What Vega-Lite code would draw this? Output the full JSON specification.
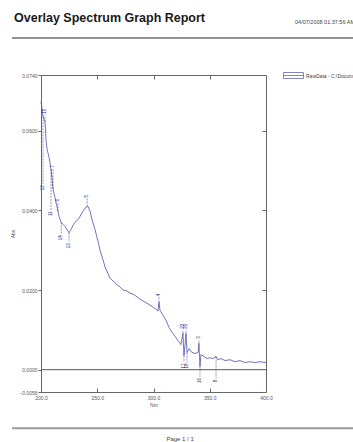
{
  "$schema": "https://vega.github.io/schema/vega-lite/v6.json",
  "autosize": {"type": "none"},
  "width": 225,
  "height": 317,
  "padding": {"left": 41, "top": 75, "right": 87, "bottom": 50},
  "background": "white",
  "config": {
    "view": {"stroke": "#666666", "strokeWidth": 1},
    "font": "Liberation Sans Narrow, Liberation Sans, Arial",
    "axis": {"grid": false, "domain": false, "labelColor": "#555555", "tickColor": "#666666", "titleColor": "#555555", "labelFontSize": 5, "titleFontSize": 5, "titleFontWeight": "normal"}
  },
  "resolve": {"axis": {"x": "independent", "y": "independent"}},
  "datasets": {
    "blank": [{}],
    "spectrum": [
      {"nm": 200.0, "abs": 0.0674, "series": "RawData - C:\\Documents and Settings\\User\\Spectrum.csv"},
      {"nm": 200.9, "abs": 0.0656, "series": "RawData - C:\\Documents and Settings\\User\\Spectrum.csv"},
      {"nm": 201.8, "abs": 0.0636, "series": "RawData - C:\\Documents and Settings\\User\\Spectrum.csv"},
      {"nm": 203.6, "abs": 0.0623, "series": "RawData - C:\\Documents and Settings\\User\\Spectrum.csv"},
      {"nm": 204.4, "abs": 0.0580, "series": "RawData - C:\\Documents and Settings\\User\\Spectrum.csv"},
      {"nm": 205.3, "abs": 0.0555, "series": "RawData - C:\\Documents and Settings\\User\\Spectrum.csv"},
      {"nm": 207.1, "abs": 0.0534, "series": "RawData - C:\\Documents and Settings\\User\\Spectrum.csv"},
      {"nm": 208.9, "abs": 0.0504, "series": "RawData - C:\\Documents and Settings\\User\\Spectrum.csv"},
      {"nm": 209.8, "abs": 0.0479, "series": "RawData - C:\\Documents and Settings\\User\\Spectrum.csv"},
      {"nm": 210.7, "abs": 0.0453, "series": "RawData - C:\\Documents and Settings\\User\\Spectrum.csv"},
      {"nm": 212.4, "abs": 0.0433, "series": "RawData - C:\\Documents and Settings\\User\\Spectrum.csv"},
      {"nm": 213.3, "abs": 0.0420, "series": "RawData - C:\\Documents and Settings\\User\\Spectrum.csv"},
      {"nm": 215.1, "abs": 0.0398, "series": "RawData - C:\\Documents and Settings\\User\\Spectrum.csv"},
      {"nm": 216.0, "abs": 0.0385, "series": "RawData - C:\\Documents and Settings\\User\\Spectrum.csv"},
      {"nm": 217.8, "abs": 0.0370, "series": "RawData - C:\\Documents and Settings\\User\\Spectrum.csv"},
      {"nm": 219.6, "abs": 0.0365, "series": "RawData - C:\\Documents and Settings\\User\\Spectrum.csv"},
      {"nm": 221.3, "abs": 0.0360, "series": "RawData - C:\\Documents and Settings\\User\\Spectrum.csv"},
      {"nm": 223.1, "abs": 0.0352, "series": "RawData - C:\\Documents and Settings\\User\\Spectrum.csv"},
      {"nm": 224.9, "abs": 0.0344, "series": "RawData - C:\\Documents and Settings\\User\\Spectrum.csv"},
      {"nm": 226.7, "abs": 0.0352, "series": "RawData - C:\\Documents and Settings\\User\\Spectrum.csv"},
      {"nm": 228.4, "abs": 0.0362, "series": "RawData - C:\\Documents and Settings\\User\\Spectrum.csv"},
      {"nm": 230.2, "abs": 0.0370, "series": "RawData - C:\\Documents and Settings\\User\\Spectrum.csv"},
      {"nm": 232.9, "abs": 0.0377, "series": "RawData - C:\\Documents and Settings\\User\\Spectrum.csv"},
      {"nm": 234.7, "abs": 0.0385, "series": "RawData - C:\\Documents and Settings\\User\\Spectrum.csv"},
      {"nm": 237.3, "abs": 0.0398, "series": "RawData - C:\\Documents and Settings\\User\\Spectrum.csv"},
      {"nm": 240.0, "abs": 0.0408, "series": "RawData - C:\\Documents and Settings\\User\\Spectrum.csv"},
      {"nm": 241.8, "abs": 0.0410, "series": "RawData - C:\\Documents and Settings\\User\\Spectrum.csv"},
      {"nm": 243.6, "abs": 0.0398, "series": "RawData - C:\\Documents and Settings\\User\\Spectrum.csv"},
      {"nm": 245.3, "abs": 0.0377, "series": "RawData - C:\\Documents and Settings\\User\\Spectrum.csv"},
      {"nm": 248.0, "abs": 0.0352, "series": "RawData - C:\\Documents and Settings\\User\\Spectrum.csv"},
      {"nm": 250.7, "abs": 0.0322, "series": "RawData - C:\\Documents and Settings\\User\\Spectrum.csv"},
      {"nm": 252.4, "abs": 0.0301, "series": "RawData - C:\\Documents and Settings\\User\\Spectrum.csv"},
      {"nm": 255.1, "abs": 0.0276, "series": "RawData - C:\\Documents and Settings\\User\\Spectrum.csv"},
      {"nm": 256.9, "abs": 0.0258, "series": "RawData - C:\\Documents and Settings\\User\\Spectrum.csv"},
      {"nm": 259.6, "abs": 0.0241, "series": "RawData - C:\\Documents and Settings\\User\\Spectrum.csv"},
      {"nm": 261.3, "abs": 0.0230, "series": "RawData - C:\\Documents and Settings\\User\\Spectrum.csv"},
      {"nm": 264.0, "abs": 0.0223, "series": "RawData - C:\\Documents and Settings\\User\\Spectrum.csv"},
      {"nm": 267.6, "abs": 0.0213, "series": "RawData - C:\\Documents and Settings\\User\\Spectrum.csv"},
      {"nm": 270.2, "abs": 0.0208, "series": "RawData - C:\\Documents and Settings\\User\\Spectrum.csv"},
      {"nm": 272.9, "abs": 0.0200, "series": "RawData - C:\\Documents and Settings\\User\\Spectrum.csv"},
      {"nm": 276.4, "abs": 0.0198, "series": "RawData - C:\\Documents and Settings\\User\\Spectrum.csv"},
      {"nm": 279.1, "abs": 0.0192, "series": "RawData - C:\\Documents and Settings\\User\\Spectrum.csv"},
      {"nm": 281.8, "abs": 0.0190, "series": "RawData - C:\\Documents and Settings\\User\\Spectrum.csv"},
      {"nm": 284.4, "abs": 0.0185, "series": "RawData - C:\\Documents and Settings\\User\\Spectrum.csv"},
      {"nm": 288.0, "abs": 0.0177, "series": "RawData - C:\\Documents and Settings\\User\\Spectrum.csv"},
      {"nm": 292.4, "abs": 0.0170, "series": "RawData - C:\\Documents and Settings\\User\\Spectrum.csv"},
      {"nm": 296.9, "abs": 0.0162, "series": "RawData - C:\\Documents and Settings\\User\\Spectrum.csv"},
      {"nm": 299.6, "abs": 0.0157, "series": "RawData - C:\\Documents and Settings\\User\\Spectrum.csv"},
      {"nm": 302.2, "abs": 0.0152, "series": "RawData - C:\\Documents and Settings\\User\\Spectrum.csv"},
      {"nm": 304.0, "abs": 0.0147, "series": "RawData - C:\\Documents and Settings\\User\\Spectrum.csv"},
      {"nm": 304.9, "abs": 0.0170, "series": "RawData - C:\\Documents and Settings\\User\\Spectrum.csv"},
      {"nm": 305.8, "abs": 0.0149, "series": "RawData - C:\\Documents and Settings\\User\\Spectrum.csv"},
      {"nm": 308.4, "abs": 0.0137, "series": "RawData - C:\\Documents and Settings\\User\\Spectrum.csv"},
      {"nm": 311.1, "abs": 0.0124, "series": "RawData - C:\\Documents and Settings\\User\\Spectrum.csv"},
      {"nm": 313.8, "abs": 0.0106, "series": "RawData - C:\\Documents and Settings\\User\\Spectrum.csv"},
      {"nm": 316.4, "abs": 0.0094, "series": "RawData - C:\\Documents and Settings\\User\\Spectrum.csv"},
      {"nm": 319.1, "abs": 0.0084, "series": "RawData - C:\\Documents and Settings\\User\\Spectrum.csv"},
      {"nm": 321.8, "abs": 0.0073, "series": "RawData - C:\\Documents and Settings\\User\\Spectrum.csv"},
      {"nm": 324.4, "abs": 0.0063, "series": "RawData - C:\\Documents and Settings\\User\\Spectrum.csv"},
      {"nm": 326.2, "abs": 0.0091, "series": "RawData - C:\\Documents and Settings\\User\\Spectrum.csv"},
      {"nm": 327.1, "abs": 0.0035, "series": "RawData - C:\\Documents and Settings\\User\\Spectrum.csv"},
      {"nm": 328.0, "abs": 0.0061, "series": "RawData - C:\\Documents and Settings\\User\\Spectrum.csv"},
      {"nm": 328.9, "abs": 0.0091, "series": "RawData - C:\\Documents and Settings\\User\\Spectrum.csv"},
      {"nm": 329.8, "abs": 0.0043, "series": "RawData - C:\\Documents and Settings\\User\\Spectrum.csv"},
      {"nm": 331.6, "abs": 0.0053, "series": "RawData - C:\\Documents and Settings\\User\\Spectrum.csv"},
      {"nm": 334.2, "abs": 0.0043, "series": "RawData - C:\\Documents and Settings\\User\\Spectrum.csv"},
      {"nm": 336.9, "abs": 0.0041, "series": "RawData - C:\\Documents and Settings\\User\\Spectrum.csv"},
      {"nm": 339.6, "abs": 0.0043, "series": "RawData - C:\\Documents and Settings\\User\\Spectrum.csv"},
      {"nm": 340.4, "abs": 0.0066, "series": "RawData - C:\\Documents and Settings\\User\\Spectrum.csv"},
      {"nm": 341.3, "abs": 0.0008, "series": "RawData - C:\\Documents and Settings\\User\\Spectrum.csv"},
      {"nm": 342.2, "abs": 0.0038, "series": "RawData - C:\\Documents and Settings\\User\\Spectrum.csv"},
      {"nm": 344.9, "abs": 0.0033, "series": "RawData - C:\\Documents and Settings\\User\\Spectrum.csv"},
      {"nm": 347.6, "abs": 0.0028, "series": "RawData - C:\\Documents and Settings\\User\\Spectrum.csv"},
      {"nm": 350.2, "abs": 0.0030, "series": "RawData - C:\\Documents and Settings\\User\\Spectrum.csv"},
      {"nm": 352.9, "abs": 0.0028, "series": "RawData - C:\\Documents and Settings\\User\\Spectrum.csv"},
      {"nm": 355.6, "abs": 0.0033, "series": "RawData - C:\\Documents and Settings\\User\\Spectrum.csv"},
      {"nm": 357.3, "abs": 0.0025, "series": "RawData - C:\\Documents and Settings\\User\\Spectrum.csv"},
      {"nm": 360.0, "abs": 0.0028, "series": "RawData - C:\\Documents and Settings\\User\\Spectrum.csv"},
      {"nm": 363.6, "abs": 0.0023, "series": "RawData - C:\\Documents and Settings\\User\\Spectrum.csv"},
      {"nm": 368.0, "abs": 0.0025, "series": "RawData - C:\\Documents and Settings\\User\\Spectrum.csv"},
      {"nm": 372.4, "abs": 0.0020, "series": "RawData - C:\\Documents and Settings\\User\\Spectrum.csv"},
      {"nm": 376.9, "abs": 0.0023, "series": "RawData - C:\\Documents and Settings\\User\\Spectrum.csv"},
      {"nm": 381.3, "abs": 0.0018, "series": "RawData - C:\\Documents and Settings\\User\\Spectrum.csv"},
      {"nm": 385.8, "abs": 0.0020, "series": "RawData - C:\\Documents and Settings\\User\\Spectrum.csv"},
      {"nm": 390.2, "abs": 0.0018, "series": "RawData - C:\\Documents and Settings\\User\\Spectrum.csv"},
      {"nm": 394.7, "abs": 0.0020, "series": "RawData - C:\\Documents and Settings\\User\\Spectrum.csv"},
      {"nm": 400.0, "abs": 0.0018, "series": "RawData - C:\\Documents and Settings\\User\\Spectrum.csv"}
    ],
    "peaks": [
      {"nm": 203.6, "abs": 0.0623, "tip": 0.0640, "label": "10", "kind": "peak"},
      {"nm": 210.7, "abs": 0.0453, "tip": 0.0505, "label": "7", "kind": "peak"},
      {"nm": 215.1, "abs": 0.0398, "tip": 0.0420, "label": "6", "kind": "peak"},
      {"nm": 241.0, "abs": 0.0410, "tip": 0.0430, "label": "5", "kind": "peak"},
      {"nm": 304.9, "abs": 0.0170, "tip": 0.0182, "label": "4", "kind": "peak"},
      {"nm": 326.2, "abs": 0.0091, "tip": 0.0100, "label": "22", "kind": "peak"},
      {"nm": 328.9, "abs": 0.0091, "tip": 0.0100, "label": "21", "kind": "peak"},
      {"nm": 340.4, "abs": 0.0066, "tip": 0.0075, "label": "3", "kind": "peak"},
      {"nm": 201.8, "abs": 0.0636, "tip": 0.0466, "label": "12", "kind": "valley"},
      {"nm": 208.9, "abs": 0.0504, "tip": 0.0400, "label": "11", "kind": "valley"},
      {"nm": 218.0, "abs": 0.0370, "tip": 0.0340, "label": "14", "kind": "valley"},
      {"nm": 224.9, "abs": 0.0344, "tip": 0.0320, "label": "13", "kind": "valley"},
      {"nm": 327.1, "abs": 0.0035, "tip": 0.0018, "label": "17", "kind": "valley"},
      {"nm": 329.8, "abs": 0.0043, "tip": 0.0018, "label": "18", "kind": "valley"},
      {"nm": 341.3, "abs": 0.0008, "tip": -0.0018, "label": "16", "kind": "valley"},
      {"nm": 355.6, "abs": 0.0033, "tip": -0.0023, "label": "8", "kind": "valley"}
    ]
  },
  "layer": [
    {
      "data": {"name": "spectrum"},
      "mark": {"type": "line", "strokeWidth": 0.8, "interpolate": "linear"},
      "encoding": {
        "x": {"field": "nm", "type": "quantitative", "scale": {"domain": [200, 400], "nice": false, "zero": false},
          "axis": {"orient": "bottom", "values": [200, 250, 300, 350, 400], "format": ".1f", "title": "Nm", "labelFlush": false, "tickSize": -4, "labelPadding": 7, "titlePadding": 2}},
        "y": {"field": "abs", "type": "quantitative", "scale": {"domain": [-0.0056, 0.074], "nice": false, "zero": false},
          "axis": {"orient": "left", "values": [-0.0056, 0, 0.02, 0.04, 0.06, 0.074], "format": ".4f", "title": "Abs", "tickSize": 3, "labelPadding": 1, "titlePadding": 3, "labelOverlap": false}},
        "color": {"field": "series", "type": "nominal", "scale": {"range": ["#5050a8"]},
          "legend": {"orient": "none", "legendX": 242, "legendY": -10, "title": null, "symbolType": "M-1,-0.3H1V0.3H-1Z M-1,0H1", "symbolSize": 400, "symbolStrokeWidth": 0.7, "symbolFillColor": "white", "symbolStrokeColor": "#555555", "labelFontSize": 5, "labelLimit": 400, "labelColor": "#444444", "labelOffset": 2}}
      }
    },
    {
      "data": {"name": "blank"},
      "mark": {"type": "rule", "color": "#555555", "strokeWidth": 1},
      "encoding": {
        "x": {"datum": 200, "axis": {"orient": "top", "values": [250, 300, 350], "labels": false, "title": null, "tickSize": -4}},
        "x2": {"datum": 400},
        "y": {"datum": 0, "axis": {"orient": "right", "values": [0.02, 0.04, 0.06], "labels": false, "title": null, "tickSize": -4}}
      }
    },
    {
      "data": {"name": "peaks"},
      "mark": {"type": "rule", "color": "#2a2a88", "strokeWidth": 0.5, "strokeDash": [2, 1]},
      "encoding": {
        "x": {"field": "nm", "type": "quantitative", "axis": null},
        "y": {"field": "abs", "type": "quantitative", "axis": null},
        "y2": {"field": "tip"}
      }
    },
    {
      "data": {"name": "peaks"},
      "transform": [{"filter": "datum.kind === 'peak'"}],
      "mark": {"type": "text", "angle": 270, "align": "left", "baseline": "middle", "fontSize": 4.5, "color": "#2a2a88", "dx": 1},
      "encoding": {
        "x": {"field": "nm", "type": "quantitative", "axis": null},
        "y": {"field": "tip", "type": "quantitative", "axis": null},
        "text": {"field": "label"}
      }
    },
    {
      "data": {"name": "peaks"},
      "transform": [{"filter": "datum.kind === 'valley'"}],
      "mark": {"type": "text", "angle": 270, "align": "right", "baseline": "middle", "fontSize": 4.5, "color": "#2a2a88", "dx": -1},
      "encoding": {
        "x": {"field": "nm", "type": "quantitative", "axis": null},
        "y": {"field": "tip", "type": "quantitative", "axis": null},
        "text": {"field": "label"}
      }
    },
    {
      "data": {"name": "blank"},
      "mark": {"type": "rule", "color": "#6e6e6e", "strokeWidth": 1.5, "clip": false},
      "encoding": {
        "x": {"datum": 174.2, "axis": null},
        "x2": {"datum": 480},
        "y": {"datum": 0.0833, "axis": null}
      }
    },
    {
      "data": {"name": "blank"},
      "mark": {"type": "rule", "color": "#9a9a9a", "strokeWidth": 2, "clip": false},
      "encoding": {
        "x": {"datum": 174.2, "axis": null},
        "x2": {"datum": 480},
        "y": {"datum": -0.0147, "axis": null}
      }
    },
    {
      "data": {"name": "blank"},
      "mark": {"type": "text", "align": "left", "baseline": "middle", "fontSize": 12.5, "fontWeight": "bold", "color": "#1a1a1a", "clip": false},
      "encoding": {
        "x": {"datum": 176.0, "axis": null},
        "y": {"datum": 0.0882, "axis": null},
        "text": {"value": "Overlay Spectrum Graph Report"}
      }
    },
    {
      "data": {"name": "blank"},
      "mark": {"type": "text", "align": "left", "baseline": "middle", "fontSize": 5.5, "color": "#444444", "clip": false},
      "encoding": {
        "x": {"datum": 425.8, "axis": null},
        "y": {"datum": 0.0872, "axis": null},
        "text": {"value": "04/07/2008  01:37:56 AM"}
      }
    },
    {
      "data": {"name": "blank"},
      "mark": {"type": "text", "align": "center", "baseline": "middle", "fontSize": 6, "color": "#444444", "clip": false},
      "encoding": {
        "x": {"datum": 323.6, "axis": null},
        "y": {"datum": -0.0175, "axis": null},
        "text": {"value": "Page 1 / 1"}
      }
    }
  ]
}
